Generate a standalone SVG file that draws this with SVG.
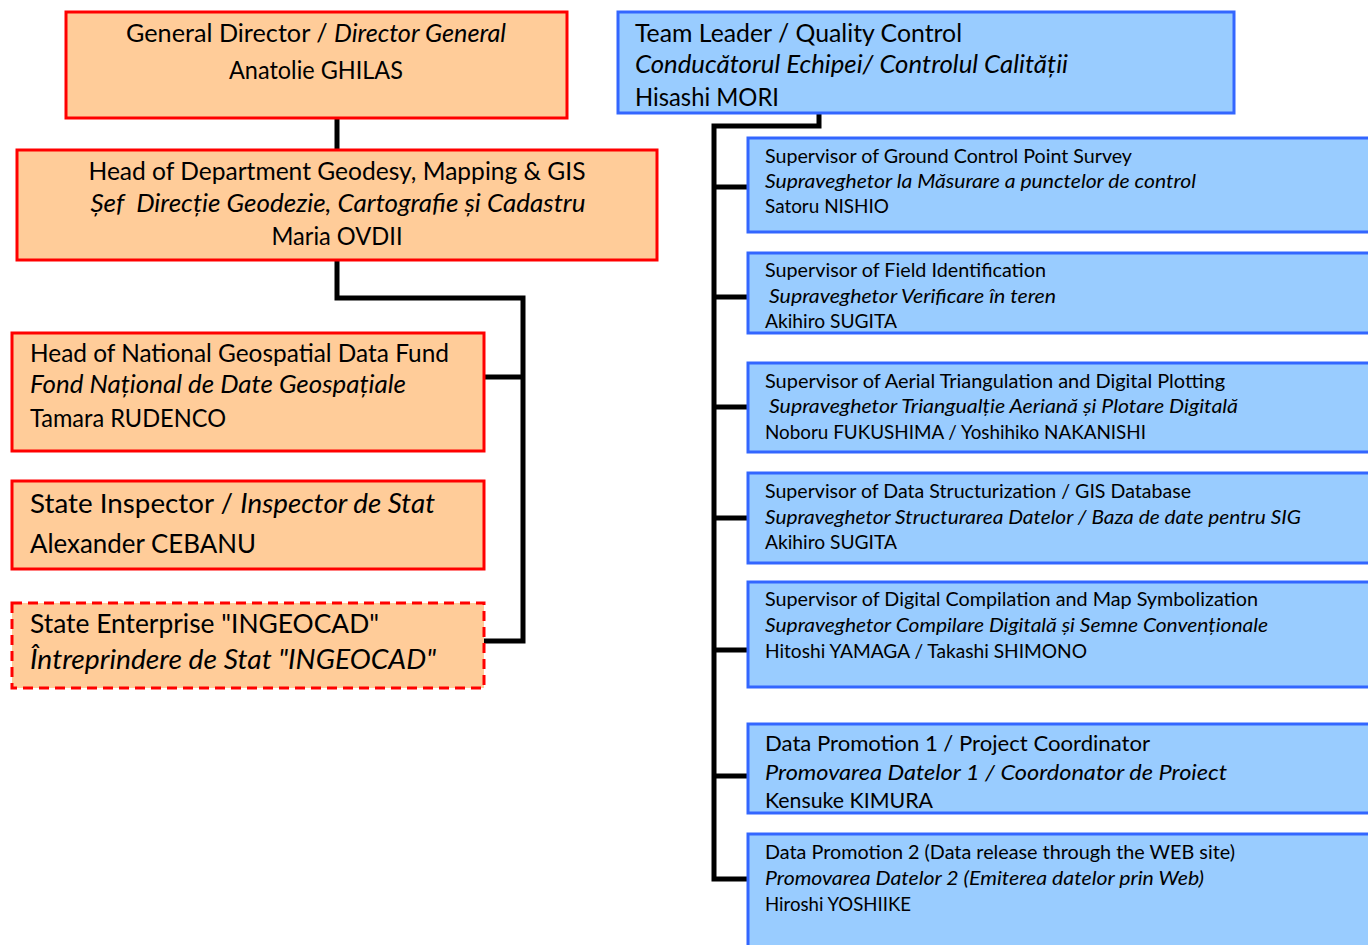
<svg xmlns="http://www.w3.org/2000/svg" width="1368" height="945" viewBox="0 0 1368 945">
  <style>
    text { font-family: Lato, "Open Sans", "Liberation Sans", sans-serif; fill: #000; white-space: pre; }
    .it { font-style: italic; }
    .org { fill: #FFCC99; stroke: #FF0000; stroke-width: 3; }
    .dash { stroke-dasharray: 10 6; }
    .team { fill: #99CCFF; stroke: #3366FF; stroke-width: 3; }
    .link { fill: none; stroke: #000; stroke-width: 5; stroke-linejoin: miter; }
    .l2 { font-size: 24.5px; }
    .l3 { font-size: 27.5px; }
    .s { font-size: 19.5px; }
    .m { font-size: 22px; }
  </style>
  <rect width="1368" height="945" fill="#FFFFFF"/>

  <!-- connectors -->
  <g id="connectors">
    <path class="link" d="M337 118 V150"/>
    <path class="link" d="M337 260 V298 H523 V641 H484"/>
    <path class="link" d="M523 377 H484"/>
    <path class="link" d="M819 113 V126 H714 V879 H748"/>
    <path class="link" d="M714 187 H748 M714 297 H748 M714 407 H748 M714 518 H748 M714 650 H748 M714 776 H748"/>
  </g>

  <!-- Moldovan side -->
  <g id="general-director">
    <rect class="org" x="66" y="12" width="501" height="106"/>
    <text class="l2" x="316" y="42" text-anchor="middle" textLength="380" lengthAdjust="spacingAndGlyphs">General Director / <tspan class="it">Director General</tspan></text>
    <text class="l2" x="316" y="79" text-anchor="middle" textLength="174" lengthAdjust="spacingAndGlyphs">Anatolie GHILAS</text>
  </g>

  <g id="head-department">
    <rect class="org" x="17" y="150" width="640" height="110"/>
    <text class="l2" x="337" y="180" text-anchor="middle" textLength="497" lengthAdjust="spacingAndGlyphs">Head of Department Geodesy, Mapping &amp; GIS</text>
    <text class="l2 it" x="338" y="212" text-anchor="middle" textLength="495" lengthAdjust="spacingAndGlyphs">Șef  Direcție Geodezie, Cartografie și Cadastru</text>
    <text class="l2" x="337" y="245" text-anchor="middle" textLength="131" lengthAdjust="spacingAndGlyphs">Maria OVDII</text>
  </g>

  <g id="geospatial-fund">
    <rect class="org" x="12" y="333" width="472" height="118"/>
    <text class="l2" x="30" y="362" textLength="419" lengthAdjust="spacingAndGlyphs">Head of National Geospatial Data Fund</text>
    <text class="l2 it" x="30" y="393" textLength="376" lengthAdjust="spacingAndGlyphs">Fond Național de Date Geospațiale</text>
    <text class="l2" x="30" y="427" textLength="196" lengthAdjust="spacingAndGlyphs">Tamara RUDENCO</text>
  </g>

  <g id="state-inspector">
    <rect class="org" x="12" y="481" width="472" height="88"/>
    <text class="l3" x="30" y="513" textLength="405" lengthAdjust="spacingAndGlyphs">State Inspector / <tspan class="it">Inspector de Stat</tspan></text>
    <text class="l3" x="30" y="553" textLength="226" lengthAdjust="spacingAndGlyphs">Alexander CEBANU</text>
  </g>

  <g id="ingeocad">
    <rect class="org dash" x="12" y="603" width="472" height="85"/>
    <text class="l3" x="30" y="633" textLength="349" lengthAdjust="spacingAndGlyphs">State Enterprise "INGEOCAD"</text>
    <text class="l3 it" x="30" y="669" textLength="406" lengthAdjust="spacingAndGlyphs">Întreprindere de Stat "INGEOCAD"</text>
  </g>

  <!-- Japanese team side -->
  <g id="team-leader">
    <rect class="team" x="618" y="12" width="616" height="101"/>
    <text class="l2" x="635" y="42" textLength="327" lengthAdjust="spacingAndGlyphs">Team Leader / Quality Control</text>
    <text class="l2 it" x="635" y="73" textLength="433" lengthAdjust="spacingAndGlyphs">Conducătorul Echipei/ Controlul Calității</text>
    <text class="l2" x="635" y="106" textLength="144" lengthAdjust="spacingAndGlyphs">Hisashi MORI</text>
  </g>

  <g id="gcp-survey">
    <rect class="team" x="748" y="138" width="626" height="94"/>
    <text class="s" x="765" y="163" textLength="367" lengthAdjust="spacingAndGlyphs">Supervisor of Ground Control Point Survey</text>
    <text class="s it" x="765" y="188" textLength="431" lengthAdjust="spacingAndGlyphs">Supraveghetor la Măsurare a punctelor de control</text>
    <text class="s" x="765" y="213" textLength="124" lengthAdjust="spacingAndGlyphs">Satoru NISHIO</text>
  </g>

  <g id="field-identification">
    <rect class="team" x="748" y="253" width="626" height="80"/>
    <text class="s" x="765" y="277" textLength="281" lengthAdjust="spacingAndGlyphs">Supervisor of Field Identification</text>
    <text class="s it" x="769" y="303" textLength="287" lengthAdjust="spacingAndGlyphs">Supraveghetor Verificare în teren</text>
    <text class="s" x="765" y="328" textLength="132" lengthAdjust="spacingAndGlyphs">Akihiro SUGITA</text>
  </g>

  <g id="aerial-triangulation">
    <rect class="team" x="748" y="363" width="626" height="89"/>
    <text class="s" x="765" y="388" textLength="460" lengthAdjust="spacingAndGlyphs">Supervisor of Aerial Triangulation and Digital Plotting</text>
    <text class="s it" x="769" y="413" textLength="469" lengthAdjust="spacingAndGlyphs">Supraveghetor Triangualție Aeriană și Plotare Digitală</text>
    <text class="s" x="765" y="439" textLength="381" lengthAdjust="spacingAndGlyphs">Noboru FUKUSHIMA / Yoshihiko NAKANISHI</text>
  </g>

  <g id="data-structurization">
    <rect class="team" x="748" y="473" width="626" height="90"/>
    <text class="s" x="765" y="498" textLength="426" lengthAdjust="spacingAndGlyphs">Supervisor of Data Structurization / GIS Database</text>
    <text class="s it" x="765" y="524" textLength="536" lengthAdjust="spacingAndGlyphs">Supraveghetor Structurarea Datelor / Baza de date pentru SIG</text>
    <text class="s" x="765" y="549" textLength="132" lengthAdjust="spacingAndGlyphs">Akihiro SUGITA</text>
  </g>

  <g id="digital-compilation">
    <rect class="team" x="748" y="582" width="626" height="105"/>
    <text class="s" x="765" y="606" textLength="493" lengthAdjust="spacingAndGlyphs">Supervisor of Digital Compilation and Map Symbolization</text>
    <text class="s it" x="765" y="632" textLength="503" lengthAdjust="spacingAndGlyphs">Supraveghetor Compilare Digitală și Semne Convenționale</text>
    <text class="s" x="765" y="658" textLength="322" lengthAdjust="spacingAndGlyphs">Hitoshi YAMAGA / Takashi SHIMONO</text>
  </g>

  <g id="data-promotion-1">
    <rect class="team" x="748" y="724" width="626" height="89"/>
    <text class="m" x="765" y="751" textLength="385" lengthAdjust="spacingAndGlyphs">Data Promotion 1 / Project Coordinator</text>
    <text class="m it" x="765" y="780" textLength="462" lengthAdjust="spacingAndGlyphs">Promovarea Datelor 1 / Coordonator de Proiect</text>
    <text class="m" x="765" y="808" textLength="168" lengthAdjust="spacingAndGlyphs">Kensuke KIMURA</text>
  </g>

  <g id="data-promotion-2">
    <rect class="team" x="748" y="834" width="626" height="120"/>
    <text class="s" x="765" y="859" textLength="470" lengthAdjust="spacingAndGlyphs">Data Promotion 2 (Data release through the WEB site)</text>
    <text class="s it" x="765" y="885" textLength="439" lengthAdjust="spacingAndGlyphs">Promovarea Datelor 2 (Emiterea datelor prin Web)</text>
    <text class="s" x="765" y="911" textLength="146" lengthAdjust="spacingAndGlyphs">Hiroshi YOSHIIKE</text>
  </g>
</svg>
